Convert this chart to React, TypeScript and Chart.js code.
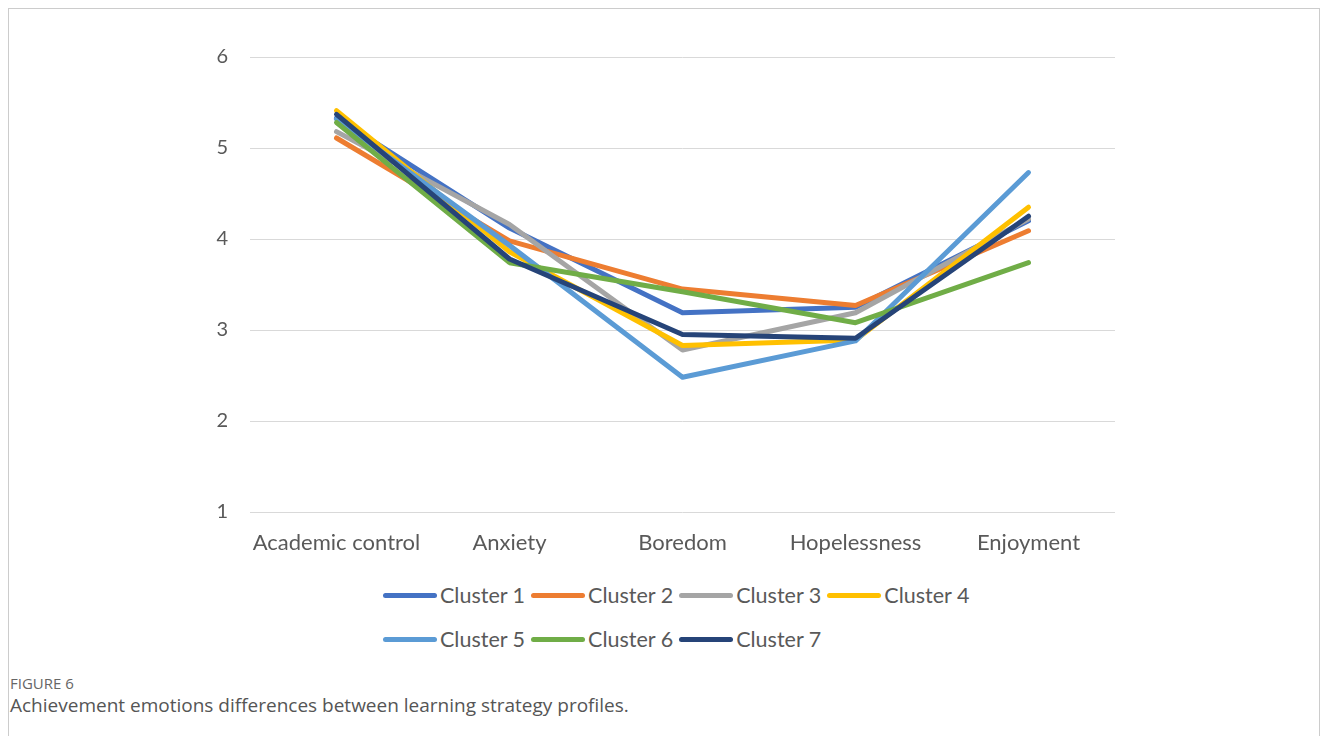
import React, { useEffect, useRef } from "react";
import { Chart, registerables } from "chart.js";

Chart.register(...registerables);

const categories = ["Academic control", "Anxiety", "Boredom", "Hopelessness", "Enjoyment"];
const seriesNames = ["Cluster 1", "Cluster 2", "Cluster 3", "Cluster 4", "Cluster 5", "Cluster 6", "Cluster 7"];
const cluster1 = [5.33, 4.12, 3.19, 3.25, 4.2];
const cluster2 = [5.11, 3.98, 3.45, 3.27, 4.09];
const cluster3 = [5.18, 4.16, 2.78, 3.19, 4.22];
const cluster4 = [5.41, 3.86, 2.83, 2.89, 4.35];
const cluster5 = [5.32, 3.93, 2.48, 2.88, 4.73];
const cluster6 = [5.28, 3.74, 3.42, 3.08, 3.74];
const cluster7 = [5.37, 3.78, 2.95, 2.91, 4.25];
const seriesValues = [cluster1, cluster2, cluster3, cluster4, cluster5, cluster6, cluster7];
const seriesColors = ["#4472C4", "#ED7D31", "#A5A5A5", "#FFC000", "#5B9BD5", "#70AD47", "#264478"];
const yMin = 1;
const yMax = 6;
const yStep = 1;

const FONT = "Lato, 'DejaVu Sans', sans-serif";

export default function App() {
  const canvasRef = useRef<HTMLCanvasElement | null>(null);

  useEffect(() => {
    if (!canvasRef.current) return;
    const chart = new Chart(canvasRef.current, {
      type: "line",
      data: {
        labels: categories,
        datasets: seriesNames.map((name, i) => ({
          label: name,
          data: seriesValues[i],
          borderColor: seriesColors[i],
          backgroundColor: seriesColors[i],
          borderWidth: 5,
          borderCapStyle: "round" as const,
          borderJoinStyle: "round" as const,
          pointRadius: 0,
          tension: 0,
          order: seriesNames.length - i,
        })),
      },
      options: {
        animation: false,
        responsive: true,
        maintainAspectRatio: false,
        layout: { padding: { top: 48, right: 204, bottom: 0, left: 0 } },
        plugins: {
          legend: { display: false },
          tooltip: { enabled: false },
        },
        scales: {
          x: {
            offset: true,
            grid: { display: false, drawTicks: false },
            border: { display: false },
            ticks: {
              color: "#595959",
              font: { family: FONT, size: 22 },
              padding: 18,
              maxRotation: 0,
              autoSkip: false,
            },
            afterFit: (scale: any) => {
              scale.height = 60;
            },
          },
          y: {
            min: yMin,
            max: yMax,
            grid: { color: "#d9d9d9", lineWidth: 1, drawTicks: false },
            border: { display: false },
            ticks: {
              stepSize: yStep,
              color: "#595959",
              font: { family: FONT, size: 20 },
              padding: 22,
            },
            afterFit: (scale: any) => {
              scale.width = 241;
            },
          },
        },
      },
    });
    return () => chart.destroy();
  }, []);

  const row1 = [0, 1, 2, 3];
  const row2 = [4, 5, 6];
  const renderItem = (i: number) => (
    <div key={i} style={{ display: "flex", alignItems: "center", marginRight: 6 }}>
      <div
        style={{
          width: 54,
          height: 5,
          borderRadius: 3,
          background: seriesColors[i],
          marginRight: 3,
        }}
      />
      <span style={{ fontFamily: FONT, fontSize: 21.5, color: "#595959", lineHeight: "24px" }}>
        {seriesNames[i]}
      </span>
    </div>
  );

  return (
    <div
      style={{
        position: "relative",
        boxSizing: "border-box",
        width: 1312,
        height: 740,
        border: "1px solid #cccccc",
        background: "#ffffff",
      }}
    >
      <div style={{ position: "absolute", left: 0, top: 0, width: 1310, height: 563 }}>
        <canvas ref={canvasRef} />
      </div>
      <div style={{ position: "absolute", left: 374, top: 574 }}>
        <div style={{ display: "flex", height: 24 }}>{row1.map(renderItem)}</div>
        <div style={{ display: "flex", height: 24, marginTop: 20 }}>{row2.map(renderItem)}</div>
      </div>
      <div
        style={{
          position: "absolute",
          left: 1,
          top: 665,
          fontFamily: "'Open Sans', sans-serif",
          fontSize: 15,
          lineHeight: "18px",
          color: "#666666",
        }}
      >
        FIGURE 6
      </div>
      <div
        style={{
          position: "absolute",
          left: 1,
          top: 684,
          fontFamily: "'Open Sans', sans-serif",
          fontSize: 19,
          lineHeight: "24px",
          color: "#555555",
        }}
      >
        Achievement emotions differences between learning strategy profiles.
      </div>
    </div>
  );
}
